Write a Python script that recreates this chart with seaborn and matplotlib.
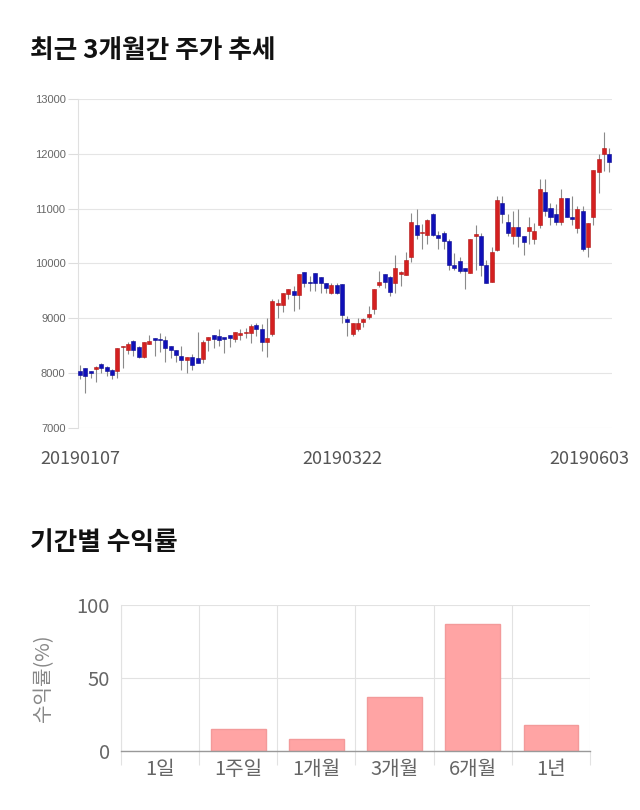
import matplotlib
matplotlib.use("Agg")
import matplotlib.pyplot as plt
import matplotlib.transforms as mtransforms
import seaborn as sns
import pandas as pd
import numpy as np

sns.set_theme(style="white")
plt.rcParams['font.family'] = ['Noto Sans CJK KR', 'DejaVu Sans']

# ---------------- data ----------------
opens = [8040, 8100, 8030, 8070, 8160, 8120, 8050, 8040, 8480, 8420,
         8590, 8470, 8290, 8530, 8650, 8630, 8600, 8500, 8420, 8320,
         8240, 8300, 8270, 8250, 8600, 8700, 8670, 8640, 8690, 8620,
         8690, 8730, 8740, 8880, 8810, 8570, 8710, 9250, 9250, 9450,
         9500, 9430, 9840, 9650, 9820, 9760, 9650, 9460, 9610, 9620,
         8990, 8720, 8800, 8940, 9030, 9170, 9610, 9810, 9760, 9650,
         9800, 9790, 10110, 10700, 10560, 10520, 10900, 10520, 10550, 10410,
         9980, 10050, 9910, 9830, 10510, 10510, 9970, 9670, 10250, 11100,
         10760, 10500, 10670, 10510, 10600, 10450, 10700, 11300, 11010, 10900,
         10760, 11200, 10850, 10650, 10960, 10310, 10850, 11660, 12000, 11990]
closes = [7970, 7950, 8010, 8120, 8100, 8040, 7960, 8450, 8500, 8530,
          8420, 8290, 8560, 8580, 8610, 8610, 8450, 8420, 8330, 8240,
          8300, 8150, 8190, 8560, 8660, 8620, 8610, 8630, 8650, 8750,
          8730, 8740, 8860, 8810, 8570, 8650, 9320, 9260, 9460, 9530,
          9430, 9810, 9650, 9640, 9640, 9640, 9550, 9610, 9470, 9060,
          8940, 8910, 8910, 8990, 9080, 9540, 9670, 9670, 9480, 9910,
          9840, 10060, 10760, 10520, 10570, 10800, 10520, 10460, 10410, 9980,
          9920, 9860, 9860, 10450, 10520, 9970, 9650, 10210, 11150, 10910,
          10550, 10670, 10500, 10400, 10670, 10600, 11350, 10960, 10850, 10760,
          11200, 10850, 10810, 11000, 10260, 10740, 11710, 11900, 12100, 11860]
highs = [8150, 8100, 8040, 8130, 8180, 8130, 8080, 8450, 8500, 8560,
         8610, 8500, 8560, 8690, 8650, 8730, 8680, 8500, 8420, 8500,
         8300, 8350, 8750, 8610, 8660, 8700, 8800, 8650, 8690, 8750,
         8810, 8830, 8890, 8920, 8890, 9000, 9360, 9350, 9460, 9540,
         9590, 9810, 9850, 9780, 9820, 9760, 9650, 9640, 9640, 9620,
         9050, 8920, 9000, 9000, 9220, 9540, 9870, 9810, 9780, 10150,
         9870, 10210, 10920, 11000, 10720, 10810, 10920, 10600, 10590, 10440,
         10200, 10110, 9910, 10450, 10700, 10550, 10060, 10310, 11240, 11240,
         10900, 10960, 11000, 10510, 10850, 10740, 11550, 11550, 11110, 11090,
         11350, 11200, 11240, 11050, 11050, 10740, 11710, 11990, 12400, 12110]
lows = [7900, 7640, 7920, 7830, 8010, 7950, 7900, 7920, 8100, 8350,
        8320, 8270, 8270, 8530, 8320, 8390, 8210, 8270, 8210, 8060,
        8010, 8060, 8180, 8180, 8410, 8450, 8500, 8360, 8470, 8560,
        8610, 8650, 8550, 8680, 8410, 8300, 8680, 9010, 9120, 9350,
        9140, 9170, 9580, 9500, 9500, 9460, 9470, 9440, 9440, 8920,
        8680, 8680, 8770, 8850, 8980, 9080, 9570, 9560, 9410, 9470,
        9590, 9790, 10020, 10440, 10260, 10350, 10500, 10260, 10260, 9890,
        9890, 9830, 9540, 9830, 9890, 9770, 9640, 9670, 10230, 10740,
        10500, 10350, 10310, 10150, 10350, 10360, 10650, 10870, 10710, 10710,
        10710, 10840, 10710, 10560, 10230, 10110, 10710, 11290, 11690, 11660]
price_ticks = [7000, 8000, 9000, 10000, 11000, 12000, 13000]
date_tick_pos = [0, 49, 99]
date_tick_labels = ["20190107", "20190322", "20190603"]

periods = ["1일", "1주일", "1개월", "3개월", "6개월", "1년"]
returns = [0.0, 15.3, 8.4, 36.8, 87.2, 18.0]
return_ticks = [0, 50, 100]

# ---------------- figure ----------------
fig = plt.figure(figsize=(6.4, 8.1), dpi=100)
fig.patch.set_facecolor("white")

fig.text(30 / 640, 1 - 50 / 810, "최근 3개월간 주가 추세", fontsize=18.5,
         fontweight="bold", va="center", ha="left", color="#111111")
fig.text(30 / 640, 1 - 543 / 810, "기간별 수익률", fontsize=18.5,
         fontweight="bold", va="center", ha="left", color="#111111")

# ---- candlestick chart ----
ax = fig.add_axes([78 / 640, 1 - 428 / 810, 534 / 640, 329 / 810])
df = pd.DataFrame({"open": opens, "close": closes, "high": highs, "low": lows})
df["idx"] = np.arange(len(df))
up = df["close"] >= df["open"]
body_bottom = np.minimum(df["open"], df["close"])
body_h = np.maximum(np.abs(df["close"] - df["open"]), 22)
colors = np.where(up, "#d42020", "#1010b8")
edges = np.where(up, "#b01515", "#0a0a90")

ax.vlines(df["idx"], df["low"], df["high"], color="#8a8a8a", lw=0.8, zorder=2)
ax.bar(df["idx"], body_h, bottom=body_bottom, width=0.75, color=colors,
       edgecolor=edges, linewidth=0.4, zorder=3)

ax.set_xlim(-0.35, 99.5)
ax.set_ylim(7000, 13000)
ax.set_yticks(price_ticks)
ax.set_yticklabels([str(v) for v in price_ticks], fontsize=8, color="#666666",
                   family=["Liberation Sans", "DejaVu Sans"])
ax.tick_params(axis="y", length=7, color="#dddddd", width=0.8, pad=2, left=True)
ax.set_xticks(date_tick_pos)
ax.set_xticklabels(date_tick_labels, fontsize=13, color="#555555")
ax.tick_params(axis="x", length=0, pad=16)
lbls = ax.get_xticklabels()
lbls[-1].set_ha("right")
lbls[-1].set_transform(lbls[-1].get_transform() +
                       mtransforms.ScaledTranslation(20 / 100, 0, fig.dpi_scale_trans))
ax.yaxis.grid(True, color="#e5e5e5", lw=0.8)
ax.xaxis.grid(False)
for s in ["top", "right", "bottom"]:
    ax.spines[s].set_visible(False)
ax.spines["left"].set_color("#e0e0e0")
ax.spines["left"].set_linewidth(0.8)
ax.set_axisbelow(True)

# ---- returns bar chart ----
ax2 = fig.add_axes([121 / 640, 1 - 751 / 810, 469 / 640, 146 / 810])
bdf = pd.DataFrame({"period": periods, "ret": returns})
sns.barplot(data=bdf, x="period", y="ret", color="#ffa4a4", saturation=1,
            width=0.7, edgecolor="#f39a9a", linewidth=1, ax=ax2, zorder=3)
for p in ax2.patches:
    if abs(p.get_height()) < 1e-9:
        p.set_linewidth(0)
ax2.set_xlim(-0.5, 5.5)
ax2.set_ylim(0, 100)
ax2.set_yticks(return_ticks)
ax2.set_yticklabels([str(v) for v in return_ticks], fontsize=14.5, color="#666666")
ax2.set_xticks(range(len(periods)))
ax2.set_xticklabels(periods, fontsize=14.5, color="#666666")
ax2.set_xticks(np.arange(-0.5, 6, 1), minor=True)
ax2.tick_params(axis="x", which="major", length=0, pad=6)
ax2.tick_params(axis="x", which="minor", length=10, color="#e2e2e2", width=0.8, bottom=True)
ax2.tick_params(axis="y", length=0, pad=8)
ax2.xaxis.grid(True, which="minor", color="#e2e2e2", lw=0.8)
ax2.xaxis.grid(False, which="major")
ax2.yaxis.grid(True, color="#e2e2e2", lw=0.8)
ax2.set_xlabel("")
ax2.set_ylabel("수익률(%)", fontsize=14.5, color="#888888", labelpad=16)
for s in ["top", "right"]:
    ax2.spines[s].set_visible(False)
ax2.spines["left"].set_color("#e2e2e2")
ax2.spines["left"].set_linewidth(0.8)
ax2.spines["bottom"].set_color("#999999")
ax2.spines["bottom"].set_linewidth(1.0)
ax2.spines["bottom"].set_zorder(6)
ax2.set_axisbelow(True)

fig.savefig("out.png", dpi=100, facecolor="white")
